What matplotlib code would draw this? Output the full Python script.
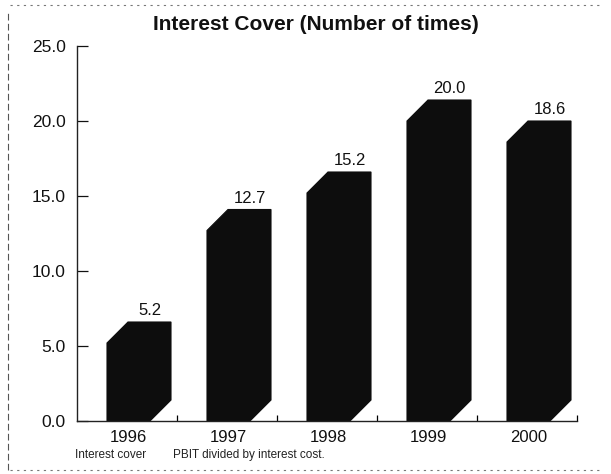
import matplotlib
matplotlib.use("Agg")
import matplotlib.pyplot as plt
from matplotlib.patches import Polygon
from matplotlib.lines import Line2D

plt.rcParams['font.family'] = ['Liberation Sans', 'DejaVu Sans']

years = ["1996", "1997", "1998", "1999", "2000"]
cover = [5.2, 12.7, 15.2, 20.0, 18.6]
value_labels = ["5.2", "12.7", "15.2", "20.0", "18.6"]
y_ticks = [0, 5, 10, 15, 20, 25]

# geometry of the extruded bars (x in slot units, y in data units)
front_offset = 0.30
front_width = 0.43
depth_x = 0.21
depth_y = 1.4

W, H = 611, 474
fig = plt.figure(figsize=(W / 100, H / 100), dpi=100)
ax = fig.add_axes([77 / W, 1 - 421 / H, 500 / W, 375 / H])
ax.set_xlim(0, 5)
ax.set_ylim(0, 25)

for i, v in enumerate(cover):
    x0 = i + front_offset
    x1 = x0 + front_width
    pts = [
        (x0, 0),
        (x0, v),
        (x0 + depth_x, v + depth_y),
        (x1 + depth_x, v + depth_y),
        (x1 + depth_x, depth_y),
        (x1, 0),
    ]
    ax.add_patch(Polygon(pts, closed=True, facecolor="#0d0d0d",
                         edgecolor="#0d0d0d", linewidth=0.8, zorder=2))
    ax.text(x0 + depth_x + front_width / 2, v + depth_y + 0.25, value_labels[i],
            ha="center", va="bottom", fontsize=12, color="#111111")

# year labels under the front face of each bar
for i, yr in enumerate(years):
    xd = i + front_offset + front_width / 2
    xf = fig.transFigure.inverted().transform(ax.transData.transform((xd, 0)))[0]
    fig.text(xf, 1 - 437 / H, yr, ha="center", va="center", fontsize=12,
             color="#111111")

fig.text(75 / W, 1 - 455 / H, "Interest cover", ha="left", va="center",
         fontsize=8.5, color="#222222")
fig.text(173 / W, 1 - 455 / H, "PBIT divided by interest cost.", ha="left",
         va="center", fontsize=8.5, color="#222222")

fig.text(316 / W, 1 - 24 / H, "Interest Cover (Number of times)",
         ha="center", va="center", fontsize=15, fontweight="bold",
         color="#111111")

ax.set_yticks(y_ticks)
ax.set_yticklabels([f"{t:.1f}" for t in y_ticks])
ax.set_xticks([1, 2, 3, 4, 5])
ax.set_xticklabels([])
ax.tick_params(axis="y", direction="in", length=8, width=0.9, labelsize=12.5,
               pad=8, colors="#111111")
ax.tick_params(axis="x", direction="in", length=4, width=0.9)
for s in ("top", "right"):
    ax.spines[s].set_visible(False)
for s in ("left", "bottom"):
    ax.spines[s].set_linewidth(1.0)
    ax.spines[s].set_color("#222222")

# page border rules
fig.add_artist(Line2D([8 / W, 8 / W], [1 - 470 / H, 1 - 10 / H],
                      transform=fig.transFigure, color="#555555",
                      linewidth=0.8, linestyle=(0, (6, 3))))
fig.add_artist(Line2D([10 / W, 600 / W], [1 - 5 / H, 1 - 5 / H],
                      transform=fig.transFigure, color="#777777",
                      linewidth=0.8, linestyle=(0, (2, 4))))
fig.add_artist(Line2D([10 / W, 600 / W], [1 - 470 / H, 1 - 470 / H],
                      transform=fig.transFigure, color="#777777",
                      linewidth=0.8, linestyle=(0, (2, 4))))

fig.savefig("out.png", dpi=100)
